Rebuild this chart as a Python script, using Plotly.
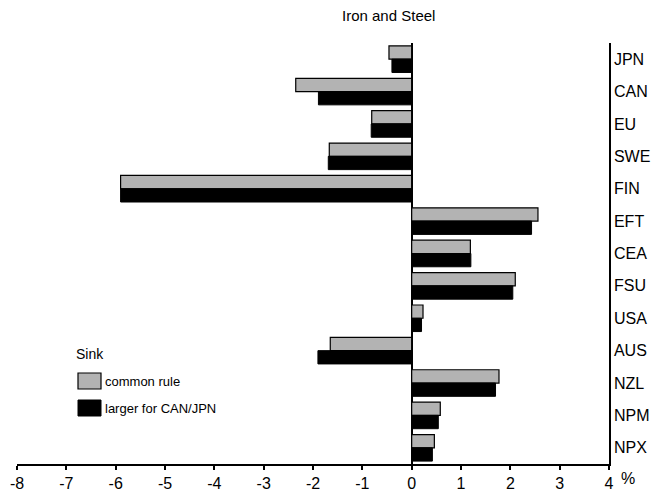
import plotly.graph_objects as go

categories = ["JPN", "CAN", "EU", "SWE", "FIN", "EFT", "CEA", "FSU", "USA", "AUS", "NZL", "NPM", "NPX"]
common_rule = [-0.46, -2.35, -0.81, -1.67, -5.90, 2.56, 1.19, 2.10, 0.23, -1.65, 1.77, 0.58, 0.46]
larger_can_jpn = [-0.40, -1.89, -0.82, -1.69, -5.90, 2.43, 1.20, 2.05, 0.20, -1.90, 1.70, 0.54, 0.42]
x_ticks = [-8, -7, -6, -5, -4, -3, -2, -1, 0, 1, 2, 3, 4]
series_names = ["common rule", "larger for CAN/JPN"]

W, H = 658, 493
PX0, PX1, PY0, PY1 = 17, 609, 43, 464  # plot area in page pixels
L, T = PX0, PY0
R, B = W - PX1, H - PY1
PW, PH = PX1 - PX0, PY1 - PY0

def px(x):
    return (x - PX0) / PW

def py(y):
    return 1 - (y - PY0) / PH

FONT = "Liberation Sans, Arial, Helvetica, sans-serif"

fig = go.Figure()
fig.add_trace(go.Bar(
    y=categories, x=common_rule, orientation="h", name=series_names[0],
    marker=dict(color="#b3b3b3", line=dict(color="black", width=1.2)),
    showlegend=False,
))
fig.add_trace(go.Bar(
    y=categories, x=larger_can_jpn, orientation="h", name=series_names[1],
    marker=dict(color="black", line=dict(color="black", width=1)),
    showlegend=False,
))

fig.update_layout(
    width=W, height=H,
    margin=dict(l=L, r=R, t=T, b=B, pad=0, autoexpand=False),
    barmode="group", bargap=0.18, bargroupgap=0,
    plot_bgcolor="white", paper_bgcolor="white",
    font=dict(family=FONT, color="black", size=16),
    showlegend=False,
    xaxis=dict(
        range=[-8, 4], tickvals=x_ticks, ticktext=[str(v) for v in x_ticks],
        showgrid=False, zeroline=True, zerolinecolor="black", zerolinewidth=1.5,
        showline=True, linecolor="black", linewidth=1.5,
        ticks="outside", ticklen=4, tickwidth=1.5, tickcolor="black",
        tickfont=dict(size=16), fixedrange=True, automargin=False,
    ),
    yaxis=dict(
        side="right", autorange="reversed", categoryorder="array", categoryarray=categories,
        showgrid=False, showline=True, linecolor="black", linewidth=1.5,
        ticks="", ticklabelstandoff=0, tickfont=dict(size=16), automargin=False,
    ),
)

annotations = [
    dict(text="Iron and Steel", x=px(388), y=py(15), xref="paper", yref="paper",
         showarrow=False, font=dict(size=15), xanchor="center", yanchor="middle"),
    dict(text="%", x=px(619), y=py(478), xref="paper", yref="paper",
         showarrow=False, font=dict(size=16), xanchor="left", yanchor="middle"),
    dict(text="Sink", x=px(74), y=py(354), xref="paper", yref="paper",
         showarrow=False, font=dict(size=14), xanchor="left", yanchor="middle"),
    dict(text=series_names[0], x=px(103), y=py(381), xref="paper", yref="paper",
         showarrow=False, font=dict(size=13), xanchor="left", yanchor="middle"),
    dict(text=series_names[1], x=px(103), y=py(408), xref="paper", yref="paper",
         showarrow=False, font=dict(size=13), xanchor="left", yanchor="middle"),
]
fig.update_layout(annotations=annotations)

fig.add_shape(type="rect", xref="paper", yref="paper",
              x0=px(78), x1=px(101), y0=py(389), y1=py(373),
              fillcolor="#b3b3b3", line=dict(color="black", width=1.2))
fig.add_shape(type="rect", xref="paper", yref="paper",
              x0=px(78), x1=px(101), y0=py(416), y1=py(400),
              fillcolor="black", line=dict(color="black", width=1))

fig.write_html(
    "out.html",
    config={"displayModeBar": False},
    post_script="document.body.style.margin='0';document.body.style.overflow='hidden';",
)
